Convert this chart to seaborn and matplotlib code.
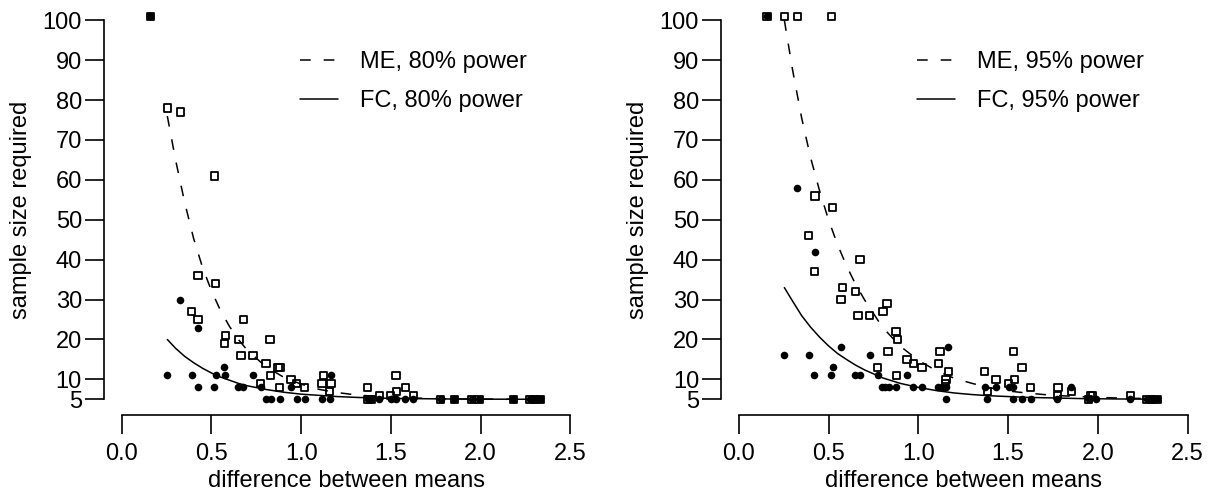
import numpy as np
import pandas as pd
import matplotlib
matplotlib.use("Agg")
import matplotlib.pyplot as plt
import seaborn as sns
from matplotlib.lines import Line2D

# ---------------- data ----------------
# left panel: 80% power
me80_x = [0.16, 0.254, 0.329, 0.518, 0.425, 0.524, 0.390, 0.425, 0.678, 0.578,
          0.572, 0.654, 0.826, 0.665, 0.732, 0.804, 0.870, 0.882, 0.830, 0.943,
          0.975, 1.020, 0.878, 0.774, 1.123, 1.116, 1.166, 1.157, 1.370, 1.435,
          1.499, 1.528, 1.532, 1.580, 1.625, 1.370, 1.390, 1.777, 1.853, 1.950,
          1.990, 2.182, 2.275, 2.300, 2.330]
me80_y = [101, 78, 77, 61, 36, 34, 27, 25, 25, 21,
          19, 20, 20, 16, 16, 14, 13, 13, 11, 10,
          9, 8, 8, 9, 11, 9, 9, 7, 8, 6,
          6, 11, 7, 8, 6, 5, 5, 5, 5, 5,
          5, 5, 5, 5, 5]
fc80_x = [0.16, 0.254, 0.327, 0.390, 0.425, 0.423, 0.524, 0.516, 0.578, 0.570,
          0.646, 0.674, 0.732, 0.774, 0.804, 0.830, 0.880, 0.941, 0.975, 1.020,
          1.116, 1.161, 1.166, 1.370, 1.390, 1.435, 1.499, 1.528, 1.580, 1.625,
          1.777, 1.853, 1.950, 1.990, 2.182, 2.275, 2.300, 2.330]
fc80_y = [101, 11, 30, 11, 23, 8, 11, 8, 11, 13,
          8, 8, 11, 8, 5, 5, 5, 8, 5, 5,
          5, 5, 11, 5, 5, 5, 5, 5, 5, 5,
          5, 5, 5, 5, 5, 5, 5, 5]

# right panel: 95% power
me95_x = [0.158, 0.254, 0.329, 0.518, 0.425, 0.524, 0.388, 0.423, 0.676, 0.578,
          0.570, 0.652, 0.665, 0.730, 0.804, 0.825, 0.875, 0.884, 0.832, 0.938,
          0.973, 1.020, 0.773, 0.877, 1.122, 1.114, 1.168, 1.155, 1.151, 1.370,
          1.434, 1.504, 1.530, 1.536, 1.578, 1.627, 1.387, 1.779, 1.775, 1.853,
          1.959, 1.972, 2.182, 1.950, 2.275, 2.300, 2.330]
me95_y = [101, 101, 101, 101, 56, 53, 46, 37, 40, 33,
          30, 32, 26, 26, 27, 29, 22, 20, 17, 15,
          14, 13, 13, 11, 17, 14, 12, 10, 9, 12,
          10, 9, 17, 10, 13, 8, 7, 8, 6, 7,
          6, 6, 6, 5, 5, 5, 5]
fc95_x = [0.158, 0.327, 0.425, 0.254, 0.390, 0.572, 0.730, 0.524, 0.421, 0.516,
          0.650, 0.676, 0.773, 0.940, 1.168, 0.797, 0.815, 0.839, 0.877, 0.973,
          1.020, 1.108, 1.130, 1.155, 1.157, 1.370, 1.434, 1.504, 1.530, 1.382,
          1.527, 1.577, 1.627, 1.775, 1.853, 1.950, 1.990, 2.182, 2.275, 2.300,
          2.330]
fc95_y = [101, 58, 42, 16, 16, 18, 16, 13, 11, 11,
          11, 11, 11, 11, 18, 8, 8, 8, 8, 8,
          8, 8, 8, 8, 5, 8, 8, 8, 8, 5,
          5, 5, 5, 5, 8, 5, 5, 5, 5, 5,
          5]

# fitted curves
curve_x = [0.254, 0.30, 0.35, 0.40, 0.45, 0.50, 0.55, 0.60, 0.65, 0.70,
           0.80, 0.90, 1.00, 1.10, 1.20, 1.30, 1.40, 1.50, 1.60, 1.70,
           1.80, 1.90, 2.00, 2.10, 2.20, 2.33]
me80_curve = [76, 65, 54.5, 45.4, 38.1, 32.2, 27.3, 23.3, 20.0, 17.3,
              13.3, 10.6, 8.8, 7.5, 6.7, 6.15, 5.8, 5.5, 5.35, 5.25,
              5.15, 5.1, 5.07, 5.05, 5.03, 5.02]
fc80_curve = [20.0, 17.8, 15.8, 14.2, 12.8, 11.6, 10.6, 9.8, 9.0, 8.4,
              7.5, 6.8, 6.3, 6.0, 5.7, 5.5, 5.35, 5.25, 5.2, 5.15,
              5.1, 5.07, 5.05, 5.04, 5.03, 5.02]
me95_curve = [100, 87.5, 75.6, 65.6, 57.3, 50.0, 43.8, 38.5, 33.9, 30.0,
              23.1, 18.3, 14.8, 12.2, 10.3, 9.0, 7.9, 7.1, 6.6, 6.2,
              5.9, 5.7, 5.5, 5.35, 5.25, 5.2]
fc95_curve = [33.0, 29.6, 26.0, 23.1, 20.6, 18.4, 16.5, 15.0, 13.6, 12.4,
              10.4, 9.0, 8.0, 7.2, 6.6, 6.2, 5.9, 5.7, 5.5, 5.4,
              5.3, 5.2, 5.15, 5.1, 5.07, 5.05]

x_ticks = [0.0, 0.5, 1.0, 1.5, 2.0, 2.5]
x_ticklabels = ["0.0", "0.5", "1.0", "1.5", "2.0", "2.5"]
y_ticks = [5, 10, 20, 30, 40, 50, 60, 70, 80, 90, 100]
y_ticklabels = [str(v) for v in y_ticks]

panels = [
    dict(me_x=me80_x, me_y=me80_y, fc_x=fc80_x, fc_y=fc80_y,
         me_c=me80_curve, fc_c=fc80_curve,
         labels=["ME, 80% power", "FC, 80% power"]),
    dict(me_x=me95_x, me_y=me95_y, fc_x=fc95_x, fc_y=fc95_y,
         me_c=me95_curve, fc_c=fc95_curve,
         labels=["ME, 95% power", "FC, 95% power"]),
]

# ---------------- styling ----------------
sns.set_style("ticks")
plt.rcParams['font.family'] = ['Liberation Sans', 'DejaVu Sans']
plt.rcParams['text.color'] = 'black'
plt.rcParams['axes.labelcolor'] = 'black'
plt.rcParams['xtick.color'] = 'black'
plt.rcParams['ytick.color'] = 'black'
plt.rcParams['axes.edgecolor'] = 'black'

FS = 17
DASH = [7, 8.5]

fig = plt.figure(figsize=(12.08, 4.93), dpi=100)
lefts = [0.0859, 0.5967]
for left, p in zip(lefts, panels):
    ax = fig.add_axes([left, 0.1592, 0.4012, 0.8305])
    me_df = pd.DataFrame({"diff": p["me_x"], "n": p["me_y"]})
    fc_df = pd.DataFrame({"diff": p["fc_x"], "n": p["fc_y"]})
    sns.scatterplot(data=me_df, x="diff", y="n", ax=ax, marker="s", s=28,
                    facecolor="none", edgecolor="black", linewidth=1.3,
                    zorder=3, clip_on=False)
    sns.scatterplot(data=fc_df, x="diff", y="n", ax=ax, marker="o", s=30,
                    color="black", edgecolor="black", linewidth=0,
                    zorder=4, clip_on=False)
    sns.lineplot(x=curve_x, y=p["me_c"], ax=ax, color="black", lw=1.1,
                 estimator=None, sort=False)
    ax.lines[-1].set_dashes(DASH)
    sns.lineplot(x=curve_x, y=p["fc_c"], ax=ax, color="black", lw=1.1,
                 estimator=None, sort=False)

    ax.set_xlim(-0.1, 2.6)
    ax.set_ylim(1.2, 103.8)
    ax.set_xticks(x_ticks)
    ax.set_xticklabels(x_ticklabels)
    ax.set_yticks(y_ticks)
    ax.set_yticklabels(y_ticklabels)
    for s in ["top", "right"]:
        ax.spines[s].set_visible(False)
    ax.spines["left"].set_bounds(5, 100)
    ax.spines["bottom"].set_bounds(0, 2.5)
    for s in ["left", "bottom"]:
        ax.spines[s].set_linewidth(1.2)
        ax.spines[s].set_color("black")
    ax.tick_params(axis="both", length=13.7, width=1.2, labelsize=FS,
                   direction="out", colors="black")
    ax.tick_params(axis="y", pad=2)
    ax.tick_params(axis="x", pad=7)

    ax.set_xlabel("difference between means", fontsize=FS)
    ax.set_ylabel("sample size required", fontsize=FS)
    ax.xaxis.set_label_coords(0.5, -0.1356)
    ax.yaxis.set_label_coords(-0.148, 0.5)

    handles = [Line2D([], [], color="black", lw=1.1, dashes=DASH),
               Line2D([], [], color="black", lw=1.1)]
    ax.legend(handles, p["labels"], loc="upper left",
              bbox_to_anchor=(0.405, 0.888), frameon=False, fontsize=FS,
              borderpad=0, borderaxespad=0, handlelength=1.6,
              handletextpad=0.95, labelspacing=0.73)

fig.savefig("out.png", dpi=100)
